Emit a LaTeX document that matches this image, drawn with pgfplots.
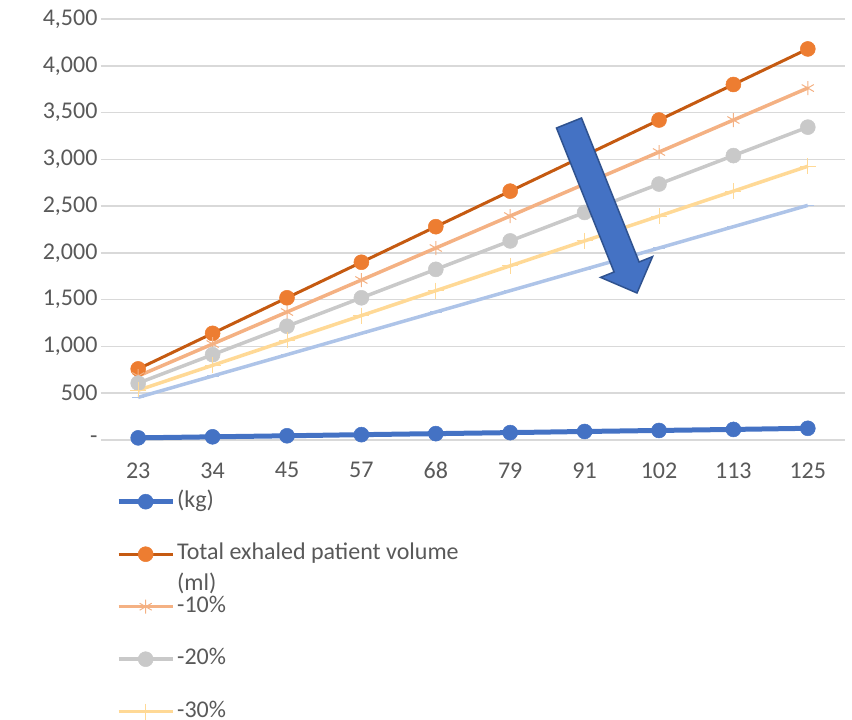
\documentclass[border=0pt]{standalone}
\usepackage{pgfplots}
\usepackage{pgfplotstable}
\pgfplotsset{compat=1.18}
\usepackage{fontspec}
\setmainfont{Carlito}

\definecolor{kgblue}{HTML}{4472C4}
\definecolor{totline}{HTML}{C55A11}
\definecolor{totmark}{HTML}{ED7D31}
\definecolor{salmon}{HTML}{F4B183}
\definecolor{midgray}{HTML}{C9C9C9}
\definecolor{paleyellow}{HTML}{FFD996}
\definecolor{paleblue}{HTML}{AEC4E8}
\definecolor{gridgray}{HTML}{D9D9D9}
\definecolor{labelgray}{HTML}{595959}
\definecolor{arrowedge}{HTML}{2F528F}

% weight (kg) and exhaled volume (ml) with reductions of 10 % to 40 %
\pgfplotstableread{
x kg  total m10  m20  m30  m40
0 23  760   684  608  532  456
1 34  1140  1026 912  798  684
2 45  1520  1368 1216 1064 912
3 57  1900  1710 1520 1330 1140
4 68  2280  2052 1824 1596 1368
5 79  2660  2394 2128 1862 1596
6 91  3040  2736 2432 2128 1824
7 102 3420  3078 2736 2394 2052
8 113 3800  3420 3040 2660 2280
9 125 4180  3762 3344 2926 2508
}\volumes

\newcommand{\chartfont}{\fontsize{24}{29}\selectfont}

\begin{document}
\begin{tikzpicture}
\path[use as bounding box] (-101pt,-280pt) rectangle (751pt,440pt);
\begin{axis}[
  at={(0,0)}, anchor=south west,
  scale only axis, width=744pt, height=421pt,
  xmin=-0.5, xmax=9.5, ymin=0, ymax=4500,
  axis line style={draw=none},
  major tick length=0pt,
  ymajorgrids, grid style={line width=1.5pt, gridgray},
  ytick={0,500,...,4500},
  yticklabels={{-\hspace{11pt}},500,{1,000},{1,500},{2,000},{2,500},{3,000},{3,500},{4,000},{4,500}},
  xtick={0,...,9},
  xticklabels={23,34,45,57,68,79,91,102,113,125},
  ticklabel style={font=\chartfont, text=labelgray},
  yticklabel style={xshift=0pt},
  xticklabel style={yshift=-19pt},
  clip=false,
  legend cell align=left,
  legend entries={{(kg)},
    {\raisebox{0pt}[\height][0pt]{\begin{tabular}[t]{@{}l@{}}Total exhaled patient volume\\[2pt](ml)\end{tabular}}},
    {-10\%},{-20\%},{-30\%}},
  legend image code/.code={\draw[mark repeat=2,mark phase=2] plot coordinates {(0pt,0pt) (27pt,0pt) (54pt,0pt)};},
  legend style={draw=none, fill=none, at={(0,0)}, anchor=north west,
    xshift=15pt, yshift=-51pt, font=\chartfont, text=labelgray,
    row sep=31.5pt, inner sep=0pt,
    nodes={inner sep=0pt, text height=16pt, text depth=5pt},
    /tikz/every odd column/.append style={column sep=2pt}},
]
\addplot[kgblue, line width=5pt, mark=*, mark size=7.5pt,
  mark options={solid, fill=kgblue, draw=kgblue, line width=0.5pt}]
  table[x=x, y=kg]{\volumes};
\addplot[totline, line width=3pt, mark=*, mark size=7.5pt,
  mark options={solid, fill=totmark, draw=totmark, line width=0.5pt}]
  table[x=x, y=total]{\volumes};
\addplot[salmon, line width=3.5pt, mark=asterisk, mark size=7pt,
  mark options={solid, line width=1pt}]
  table[x=x, y=m10]{\volumes};
\addplot[midgray, line width=3.5pt, mark=*, mark size=7.5pt,
  mark options={solid, fill=midgray, draw=midgray, line width=0.5pt}]
  table[x=x, y=m20]{\volumes};
\addplot[paleyellow, line width=3.5pt, mark=+, mark size=8pt,
  mark options={solid, line width=1pt}]
  table[x=x, y=m30]{\volumes};
\addplot[paleblue, line width=3.5pt, mark=-, mark size=6pt,
  mark options={solid, line width=1.5pt}]
  table[x=x, y=m40]{\volumes};
\end{axis}
% block arrow pointing down towards the reduced volumes
\filldraw[fill=kgblue, draw=arrowedge, line width=1.5pt, line join=miter]
  (455.5pt,312pt) -- (513.1pt,168pt) -- (499.6pt,162.6pt) -- (536pt,147pt)
  -- (551.6pt,183.4pt) -- (538.1pt,178pt) -- (480.5pt,322pt) -- cycle;
\end{tikzpicture}
\end{document}
